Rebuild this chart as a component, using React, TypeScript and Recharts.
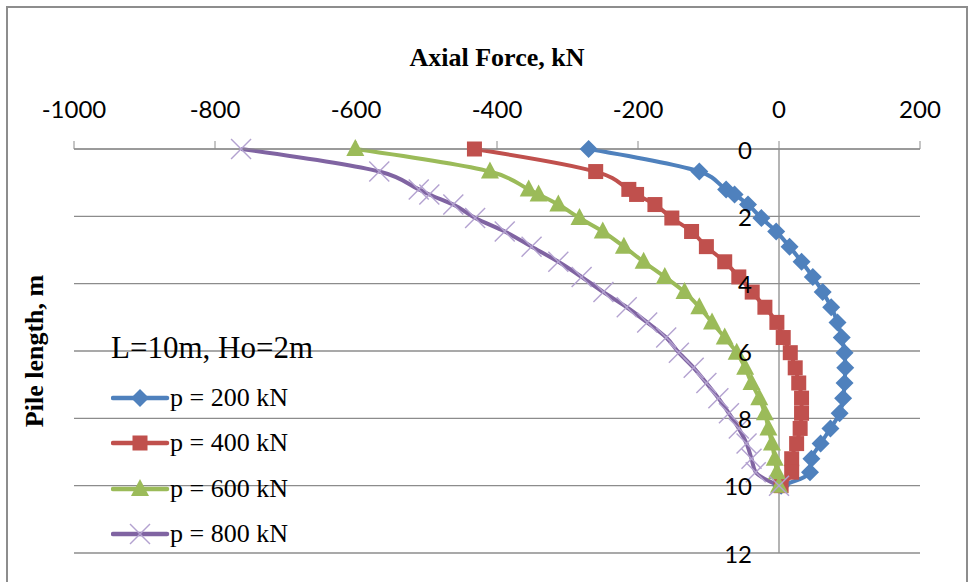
import React from 'react';
import { LineChart, Line, XAxis, YAxis, CartesianGrid, ReferenceLine, Legend, Label } from 'recharts';

// depth along the pile (m) and axial force (kN)
const DEPTH = [0, 0.67, 1.2, 1.35, 1.65, 2.05, 2.45, 2.9, 3.35, 3.8, 4.25, 4.7, 5.15, 5.6, 6.05, 6.5, 6.95, 7.4, 7.85, 8.3, 8.75, 9.2, 9.6, 10];
const P200 = [-270, -113, -75, -63, -44, -25, -4, 15, 32, 48, 62, 74, 83, 89, 93, 94, 93, 91, 86, 73, 59, 46, 44, 3];
const P400 = [-432, -260, -213, -202, -176, -152, -124, -103, -77, -57, -38, -20, -3, 6, 16, 23, 28, 32, 32, 30, 25, 18, 18, 3];
const P600 = [-601, -410, -355, -341, -313, -283, -250, -220, -192, -162, -134, -113, -95, -77, -60, -48, -39, -28, -20, -15, -10, -6, -3, 0];
const P800 = [-763, -567, -511, -496, -462, -431, -389, -351, -313, -280, -249, -216, -187, -160, -142, -121, -103, -86, -71, -57, -46, -39, -33, 0];

const X_TICKS = [-1000, -800, -600, -400, -200, 0, 200];
const Y_TICKS = [0, 2, 4, 6, 8, 10, 12];

const data = DEPTH.map((depth, i) => ({
  depth,
  p200: P200[i],
  p400: P400[i],
  p600: P600[i],
  p800: P800[i],
}));

type Shape = 'diamond' | 'square' | 'triangle' | 'x';

const SERIES: { key: string; name: string; color: string; marker: string; shape: Shape }[] = [
  { key: 'p200', name: 'p = 200 kN', color: '#4F81BD', marker: '#4F81BD', shape: 'diamond' },
  { key: 'p400', name: 'p = 400 kN', color: '#C0504D', marker: '#C0504D', shape: 'square' },
  { key: 'p600', name: 'p = 600 kN', color: '#9BBB59', marker: '#9BBB59', shape: 'triangle' },
  { key: 'p800', name: 'p = 800 kN', color: '#8064A2', marker: '#B3A2D0', shape: 'x' },
];

const W = 969;
const H = 582;
const MARGIN = { top: 89, right: 49, bottom: 29, left: 0 };
const Y_AXIS_W = 74;
const X_MIN = -1000;
const X_MAX = 200;
const PLOT_W = W - MARGIN.left - Y_AXIS_W - MARGIN.right;
const ZERO_X = MARGIN.left + Y_AXIS_W + (PLOT_W * (0 - X_MIN)) / (X_MAX - X_MIN);
const GRID = '#8c8c8c';

const Marker = ({ shape, cx, cy, color }: { shape: Shape; cx: number; cy: number; color: string }) => {
  switch (shape) {
    case 'diamond':
      return <polygon points={`${cx},${cy - 9} ${cx + 9},${cy} ${cx},${cy + 9} ${cx - 9},${cy}`} fill={color} />;
    case 'square':
      return <rect x={cx - 7.5} y={cy - 7.5} width={15} height={15} fill={color} />;
    case 'triangle':
      return <polygon points={`${cx},${cy - 10} ${cx + 9},${cy + 7} ${cx - 9},${cy + 7}`} fill={color} />;
    default:
      return (
        <g stroke={color} strokeWidth={1.4}>
          <line x1={cx - 10} y1={cy - 10} x2={cx + 10} y2={cy + 10} />
          <line x1={cx - 10} y1={cy + 10} x2={cx + 10} y2={cy - 10} />
        </g>
      );
  }
};

const YTick = (props: any) => (
  <text
    x={ZERO_X - 27}
    y={props.y}
    textAnchor="end"
    dominantBaseline="central"
    fontFamily="Lato"
    fontSize={24}
    fill="#000"
  >
    {props.payload.value}
  </text>
);

const LegendBox = () => (
  <div style={{ fontFamily: '"Liberation Serif"', color: '#000' }}>
    <div style={{ fontSize: 31, height: 50, lineHeight: '46px', whiteSpace: 'nowrap' }}>L=10m, Ho=2m</div>
    {SERIES.map(s => (
      <div key={s.key} style={{ display: 'flex', alignItems: 'center', height: 45.5 }}>
        <svg width={59} height={24} style={{ display: 'block' }}>
          <line x1={2} y1={12} x2={56} y2={12} stroke={s.color} strokeWidth={4.5} strokeLinecap="round" />
          <Marker shape={s.shape} cx={29} cy={12} color={s.marker} />
        </svg>
        <span style={{ fontSize: 26, whiteSpace: 'nowrap' }}>{s.name}</span>
      </div>
    ))}
  </div>
);

export default function App() {
  return (
    <div style={{ position: 'absolute', left: 0, top: 0, width: W, height: H, background: '#fff', overflow: 'hidden' }}>
      <div
        style={{
          position: 'absolute',
          left: 6,
          top: 6,
          width: 958,
          height: 600,
          border: '2px solid #8d8d8d',
        }}
      />
      <div style={{ position: 'absolute', left: 0, top: 0 }}>
        <LineChart width={W} height={H} data={data} layout="vertical" margin={MARGIN}>
          <CartesianGrid vertical={false} stroke={GRID} strokeWidth={1.3} />
          <XAxis
            type="number"
            orientation="top"
            domain={[X_MIN, X_MAX]}
            ticks={X_TICKS}
            height={60}
            stroke={GRID}
            tickSize={8}
            tickMargin={23}
            tick={{ fontFamily: 'Lato', fontSize: 24, fill: '#000' }}
          >
            <Label
              value="Axial Force, kN"
              position="top"
              offset={23}
              style={{ fontFamily: '"Liberation Serif"', fontWeight: 'bold', fontSize: 26, fill: '#000' }}
            />
          </XAxis>
          <YAxis
            type="number"
            dataKey="depth"
            domain={[0, 12]}
            ticks={Y_TICKS}
            width={Y_AXIS_W}
            axisLine={false}
            tickLine={false}
            tick={YTick}
          >
            <Label
              value="Pile length, m"
              position="center"
              angle={-90}
              dx={-3}
              style={{ fontFamily: '"Liberation Serif"', fontWeight: 'bold', fontSize: 26, fill: '#000' }}
            />
          </YAxis>
          <ReferenceLine x={0} stroke={GRID} strokeWidth={1.3} />
          <Legend
            layout="horizontal"
            verticalAlign="middle"
            align="center"
            content={LegendBox}
            wrapperStyle={{ left: 111, top: 325, width: 260, height: 240 }}
          />
          {SERIES.map(s => (
            <Line
              key={s.key}
              type="monotone"
              dataKey={s.key}
              name={s.name}
              stroke={s.color}
              strokeWidth={4}
              dot={(p: any) => (
                <g key={`${s.key}-${p.index}`}>
                  <Marker shape={s.shape} cx={p.cx} cy={p.cy} color={s.marker} />
                </g>
              )}
              activeDot={false}
              isAnimationActive={false}
            />
          ))}
        </LineChart>
      </div>
    </div>
  );
}
